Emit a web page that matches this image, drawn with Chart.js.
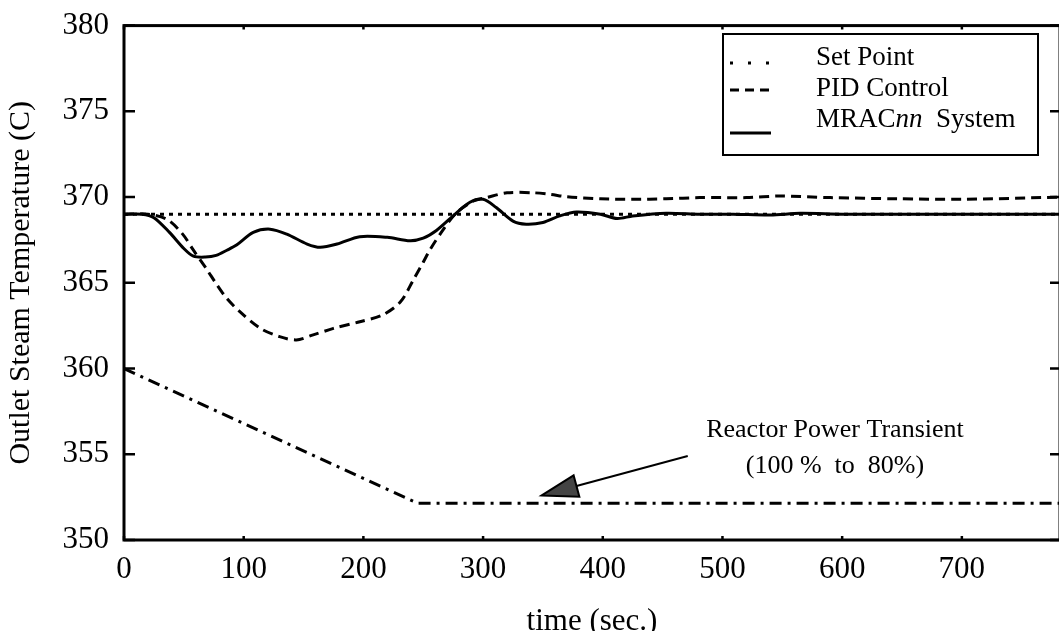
<!DOCTYPE html>
<html>
<head>
<meta charset="utf-8">
<script src="https://cdn.jsdelivr.net/npm/chart.js@4"></script>
<style>
  html, body { margin: 0; padding: 0; background: #fff; overflow: hidden; }
  #wrap { width: 1062px; height: 640px; }
</style>
</head>
<body>
<div id="wrap"><canvas id="myChart"></canvas></div>
<script>
// values
const setPointT = [0, 782];
const setPointV = [369, 369];

const pidT = [0, 20, 36, 49, 58, 69, 77, 86, 97, 114, 130, 144, 158, 175, 197, 216, 231, 242, 250, 256,
    267, 278, 292, 303, 320, 342, 356, 370, 398, 425, 453, 481, 520, 548, 590, 646, 701, 782];
const pidV = [369, 369, 368.7, 367.84, 366.9, 365.8, 364.95, 364.08, 363.3, 362.34, 361.86, 361.67, 361.96,
    362.34, 362.73, 363.12, 363.89, 365.2, 366.2, 366.97, 368.13, 369.1, 369.77, 369.97, 370.25, 370.25,
    370.16, 370.02, 369.9, 369.87, 369.9, 369.97, 369.97, 370.06, 369.97, 369.9, 369.87, 370.0];

const mracT = [0, 15, 25, 38, 50, 58, 68, 77, 86, 94, 108, 122, 136, 153, 164, 178, 197, 220, 239, 250,
    261, 275, 289, 300, 311, 325, 336, 350, 364, 378, 398, 412, 425, 453, 481, 509, 540, 565, 600, 650, 700, 782];
const mracV = [369, 369, 368.8, 367.94, 367.0, 366.55, 366.5, 366.6, 366.9, 367.2, 367.94, 368.13, 367.84,
    367.26, 367.07, 367.26, 367.69, 367.65, 367.45, 367.6, 368.05, 368.9, 369.7, 369.87, 369.39, 368.6,
    368.42, 368.52, 368.9, 369.13, 369.0, 368.75, 368.9, 369.06, 369.0, 369.0, 368.95, 369.05, 369.0,
    369.0, 369.0, 369.0];

const powerT = [0, 245, 782];
const powerV = [360, 352.15, 352.15];

const xTicks = [0, 100, 200, 300, 400, 500, 600, 700];
const yTicks = [350, 355, 360, 365, 370, 375, 380];

const serif = "'Liberation Serif', 'DejaVu Serif', serif";

function pts(t, v) {
    return t.map((x, i) => ({ x: x, y: v[i] }));
}

const framePlugin = {
    id: 'frame',
    afterDraw(chart) {
        const ctx = chart.ctx;
        const a = chart.chartArea;
        const xs = chart.scales.x, ys = chart.scales.y;
        ctx.save();
        ctx.strokeStyle = '#000';
        ctx.lineWidth = 3;
        ctx.setLineDash([]);
        ctx.strokeRect(a.left, a.top, a.right - a.left, a.bottom - a.top);

        // inward ticks
        ctx.lineWidth = 2.5;
        ctx.beginPath();
        yTicks.forEach(v => {
            const y = ys.getPixelForValue(v);
            ctx.moveTo(a.left, y); ctx.lineTo(a.left + 11, y);
            ctx.moveTo(a.right, y); ctx.lineTo(a.right - 10, y);
        });
        xTicks.forEach(v => {
            const x = xs.getPixelForValue(v);
            ctx.moveTo(x, a.bottom); ctx.lineTo(x, a.bottom - 4);
            ctx.moveTo(x, a.top); ctx.lineTo(x, a.top + 4);
        });
        ctx.stroke();

        // legend box
        const lx = 723, ly = 34, lw = 315, lh = 121;
        ctx.fillStyle = '#fff';
        ctx.fillRect(lx, ly, lw, lh);
        ctx.lineWidth = 2;
        ctx.strokeRect(lx, ly, lw, lh);

        const entries = [
            { ds: 0, dash: [3, 15], lineY: 63, textY: 58 },
            { ds: 1, dash: [9, 6], lineY: 90, textY: 89 },
            { ds: 2, dash: [], lineY: 133, textY: 120 }
        ];
        ctx.fillStyle = '#000';
        ctx.textBaseline = 'middle';
        ctx.textAlign = 'left';
        entries.forEach(e => {
            ctx.beginPath();
            ctx.lineWidth = 3;
            ctx.setLineDash(e.dash);
            ctx.moveTo(730, e.lineY);
            ctx.lineTo(771, e.lineY);
            ctx.stroke();
            ctx.setLineDash([]);
            const label = chart.data.datasets[e.ds].label;
            if (label === 'MRACnn System') {
                let x = 816;
                ctx.font = '27px ' + serif;
                ctx.fillText('MRAC', x, e.textY);
                x += ctx.measureText('MRAC').width;
                ctx.font = 'italic 27px ' + serif;
                ctx.fillText('nn', x, e.textY);
                x += ctx.measureText('nn').width;
                ctx.font = '27px ' + serif;
                ctx.fillText('  System', x, e.textY);
            } else {
                ctx.font = '27px ' + serif;
                ctx.fillText(label, 816, e.textY);
            }
        });

        // annotation
        ctx.font = '26px ' + serif;
        ctx.textAlign = 'center';
        const tx = xs.getPixelForValue(594);
        ctx.fillText('Reactor Power Transient', tx, ys.getPixelForValue(356.4));
        ctx.fillText('(100 %  to  80%)', tx, ys.getPixelForValue(354.3));

        const x0 = xs.getPixelForValue(471), y0 = ys.getPixelForValue(354.9);
        const x1 = xs.getPixelForValue(349), y1 = ys.getPixelForValue(352.6);
        const ang = Math.atan2(y1 - y0, x1 - x0);
        const hl = 36, hw = 11;
        const bx = x1 - hl * Math.cos(ang), by = y1 - hl * Math.sin(ang);
        ctx.lineWidth = 2;
        ctx.beginPath();
        ctx.moveTo(x0, y0);
        ctx.lineTo(bx, by);
        ctx.stroke();
        ctx.beginPath();
        ctx.moveTo(x1, y1);
        ctx.lineTo(bx + hw * Math.sin(ang), by - hw * Math.cos(ang));
        ctx.lineTo(bx - hw * Math.sin(ang), by + hw * Math.cos(ang));
        ctx.closePath();
        ctx.fillStyle = '#444';
        ctx.fill();
        ctx.strokeStyle = '#000';
        ctx.stroke();
        ctx.restore();
    }
};

const chart = new Chart(document.getElementById('myChart').getContext('2d'), {
    type: 'line',
    data: {
        datasets: [{
            label: 'Set Point',
            data: pts(setPointT, setPointV),
            borderColor: '#000',
            borderWidth: 3,
            borderDash: [4, 5],
            pointRadius: 0
        }, {
            label: 'PID Control',
            data: pts(pidT, pidV),
            borderColor: '#000',
            borderWidth: 3,
            borderDash: [10, 6],
            pointRadius: 0,
            tension: 0.3
        }, {
            label: 'MRACnn System',
            data: pts(mracT, mracV),
            borderColor: '#000',
            borderWidth: 3,
            pointRadius: 0,
            tension: 0.3
        }, {
            label: 'Reactor Power',
            data: pts(powerT, powerV),
            borderColor: '#000',
            borderWidth: 3,
            borderDash: [12, 6, 3, 6],
            pointRadius: 0
        }]
    },
    options: {
        responsive: true,
        maintainAspectRatio: false,
        animation: false,
        layout: { padding: { top: 22, right: 2, left: 0, bottom: 0 } },
        plugins: {
            legend: { display: false },
            tooltip: { enabled: false }
        },
        scales: {
            x: {
                type: 'linear',
                min: 0,
                max: 782,
                afterFit: function (scale) { scale.height = 100; },
                grid: { display: false },
                border: { display: false },
                ticks: {
                    stepSize: 100,
                    includeBounds: false,
                    maxRotation: 0,
                    padding: 3,
                    color: '#000',
                    font: { family: serif, size: 31 },
                    callback: v => (v % 100 === 0 ? v : '')
                },
                title: {
                    display: true,
                    text: 'time (sec.)',
                    color: '#000',
                    font: { family: serif, size: 31 },
                    padding: { top: 0, bottom: 0 }
                }
            },
            y: {
                min: 350,
                max: 380,
                afterFit: function (scale) { scale.width = 124; },
                grid: { display: false },
                border: { display: false },
                ticks: {
                    stepSize: 5,
                    padding: 7,
                    color: '#000',
                    font: { family: serif, size: 31 }
                },
                title: {
                    display: true,
                    text: 'Outlet Steam Temperature (C)',
                    color: '#000',
                    font: { family: serif, size: 30 },
                    padding: { top: 3, bottom: 0 }
                }
            }
        }
    },
    plugins: [framePlugin]
});
</script>
</body>
</html>
